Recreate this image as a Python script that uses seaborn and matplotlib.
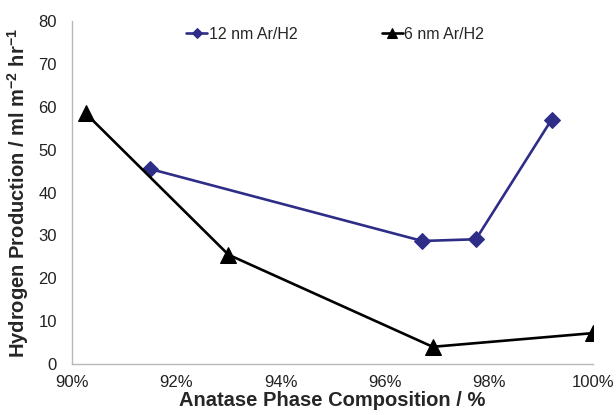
import pandas as pd
import matplotlib
matplotlib.use("Agg")
import matplotlib.pyplot as plt
import seaborn as sns
from matplotlib.ticker import FuncFormatter

# data
anatase_12nm = [91.5, 96.72, 97.75, 99.2]
h2_12nm = [45.5, 28.7, 29.1, 57.0]
anatase_6nm = [90.26, 93.0, 96.92, 100.0]
h2_6nm = [58.5, 25.5, 4.0, 7.2]

sns.set_style("white")
plt.rcParams['font.family'] = ['Liberation Sans', 'DejaVu Sans']
plt.rcParams['mathtext.fontset'] = 'custom'
plt.rcParams['mathtext.rm'] = 'Liberation Sans'
plt.rcParams['mathtext.bf'] = 'Liberation Sans:bold'

fig = plt.figure(figsize=(6.16, 4.15), dpi=100)
ax = fig.add_axes([0.117, 0.123, 0.846, 0.826])

sns.lineplot(x=anatase_12nm, y=h2_12nm, ax=ax, color='#2E2D88', marker='D',
             markersize=8, markeredgecolor='#2E2D88', linewidth=1.9,
             label='12 nm Ar/H2', sort=False)
sns.lineplot(x=anatase_6nm, y=h2_6nm, ax=ax, color='black', marker='^',
             markersize=11, markeredgecolor='black', linewidth=1.9,
             label='6 nm Ar/H2', sort=False)

ax.set_xlim(90, 100)
ax.set_ylim(0, 80)
ax.set_xticks([90, 92, 94, 96, 98, 100])
ax.set_yticks(range(0, 81, 10))
ax.xaxis.set_major_formatter(FuncFormatter(lambda v, p: f"{v:.0f}%"))

for side in ['top', 'right']:
    ax.spines[side].set_visible(False)
for side in ['left', 'bottom']:
    ax.spines[side].set_color('#b8b8b8')
    ax.spines[side].set_linewidth(1.0)
ax.tick_params(axis='both', direction='out', length=4, width=1, color='#b8b8b8',
               labelsize=12, labelcolor='#222222')
ax.tick_params(axis='y', pad=7)
ax.tick_params(axis='x', pad=4)

ax.set_xlabel('Anatase Phase Composition / %', fontsize=14.5, fontweight='bold', labelpad=1)
ax.set_ylabel('Hydrogen Production / ml m$^{\\mathbf{-2}}$ hr$^{\\mathbf{-1}}$',
              fontsize=14.5, fontweight='bold', labelpad=5)

leg = ax.legend(ncol=2, frameon=False, loc='upper center', bbox_to_anchor=(0.505, 1.025),
                fontsize=11.5, handlelength=1.3, handletextpad=0.1, columnspacing=5.3,
                markerscale=0.7)

fig.savefig('out.png', dpi=100)
